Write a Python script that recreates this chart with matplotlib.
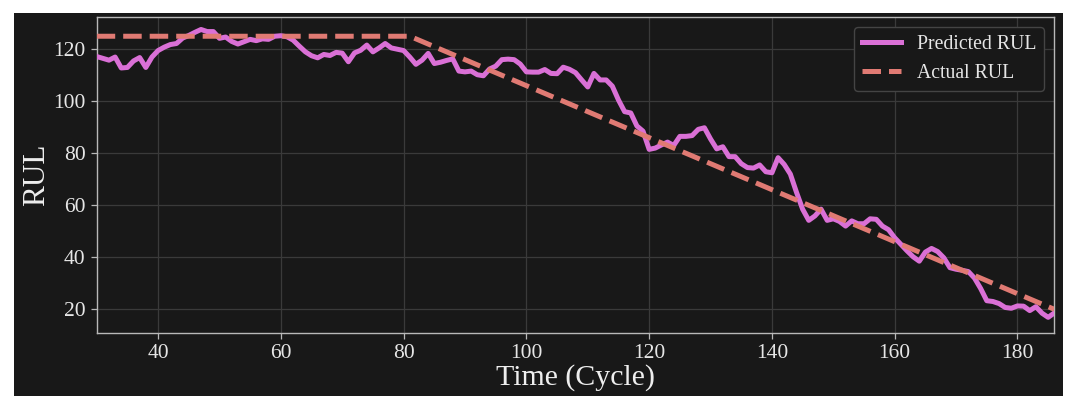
import numpy as np
import matplotlib
matplotlib.use("Agg")
import matplotlib.pyplot as plt
from matplotlib.patches import Rectangle

plt.rcParams['font.family'] = ['Liberation Serif', 'DejaVu Serif']

# ---- data ----
cycles = list(range(30, 187))
predicted_rul = [
    117.2, 116.5, 115.8, 117.0, 112.8, 113.0, 115.5, 116.8, 113.0, 117.0,   # 30-39
    119.5, 120.8, 121.8, 122.2, 124.3, 125.3, 126.5, 127.6, 126.8, 126.8,   # 40-49
    124.2, 124.7, 123.0, 122.0, 122.9, 123.8, 123.3, 124.0, 123.8, 125.0,   # 50-59
    125.2, 124.8, 123.5, 121.2, 119.0, 117.5, 116.7, 118.0, 117.6, 118.8,   # 60-69
    118.5, 115.2, 118.6, 119.6, 121.6, 119.0, 120.5, 122.2, 120.5, 120.0,   # 70-79
    119.5, 117.0, 114.2, 115.8, 118.4, 114.5, 115.0, 115.7, 116.3, 111.6,   # 80-89
    111.3, 111.6, 110.2, 109.8, 112.4, 113.5, 116.0, 116.2, 116.0, 114.3,   # 90-99
    111.3, 111.2, 111.2, 112.2, 110.7, 110.6, 113.1, 112.3, 111.0, 108.2,   # 100-109
    105.5, 110.7, 108.2, 108.2, 105.8, 100.5, 96.0, 95.5, 90.5, 88.5,       # 110-119
    81.5, 82.0, 83.2, 84.3, 83.0, 86.5, 86.5, 86.8, 89.2, 89.8,             # 120-129
    85.5, 81.7, 82.5, 78.7, 78.7, 76.0, 74.5, 74.3, 75.5, 72.9,             # 130-139
    72.5, 78.3, 75.7, 72.0, 65.0, 58.5, 54.2, 55.9, 58.5, 54.2,             # 140-149
    54.8, 53.8, 52.0, 54.0, 52.9, 52.9, 54.8, 54.6, 52.0, 50.6,             # 150-159
    47.5, 45.0, 42.5, 40.2, 38.5, 42.0, 43.4, 42.2, 39.8, 36.0,             # 160-169
    35.4, 35.0, 34.5, 32.0, 28.0, 23.3, 23.0, 22.2, 20.7, 20.4,             # 170-179
    21.3, 21.2, 19.5, 21.0, 18.5, 16.9, 18.6,                               # 180-186
]
max_rul = 125
end_of_life = 206
actual_rul = [min(max_rul, end_of_life - c) for c in cycles]

x_ticks = [40, 60, 80, 100, 120, 140, 160, 180]
y_ticks = [20, 40, 60, 80, 100, 120]

# ---- style ----
bg = '#181818'
fig = plt.figure(figsize=(10.67, 3.96), dpi=100)
fig.patch.set_facecolor('white')
fig.patches.append(Rectangle((14 / 1067, 0), (1063 - 14) / 1067, 383 / 396,
                             transform=fig.transFigure, facecolor=bg,
                             edgecolor='none', zorder=-10))

ax = fig.add_axes([96.7 / 1067, 1 - 332.7 / 396, (1054.3 - 96.7) / 1067, (332.7 - 17) / 396])
ax.set_facecolor(bg)

ax.plot(cycles, predicted_rul, color='#DA70D6', lw=3.6, label='Predicted RUL', zorder=3)
ax.plot(cycles, actual_rul, color='#E07A73', lw=3.6, ls='--', label='Actual RUL', zorder=4)

ax.set_xlim(30, 186)
ax.set_ylim(11.0, 132.4)
ax.set_xticks(x_ticks)
ax.set_yticks(y_ticks)
ax.grid(True, color='#3a3a3a', lw=0.9)
ax.set_axisbelow(True)

for s in ax.spines.values():
    s.set_color('#b8b8b8')
    s.set_linewidth(1.0)
ax.tick_params(colors='#b8b8b8', labelcolor='#e6e6e6', labelsize=15.5, length=4.5, width=0.9)

ax.set_xlabel('Time (Cycle)', fontsize=21.5, color='#eeeeee', labelpad=1)
ax.set_ylabel('RUL', fontsize=22.5, color='#eeeeee', labelpad=1.5)

leg = ax.legend(loc='upper right', fontsize=14.2, facecolor=bg, edgecolor='#444444',
                framealpha=1.0, labelcolor='#e6e6e6')
leg.get_frame().set_linewidth(1.0)

fig.savefig('out.png', dpi=100, facecolor=fig.get_facecolor())
